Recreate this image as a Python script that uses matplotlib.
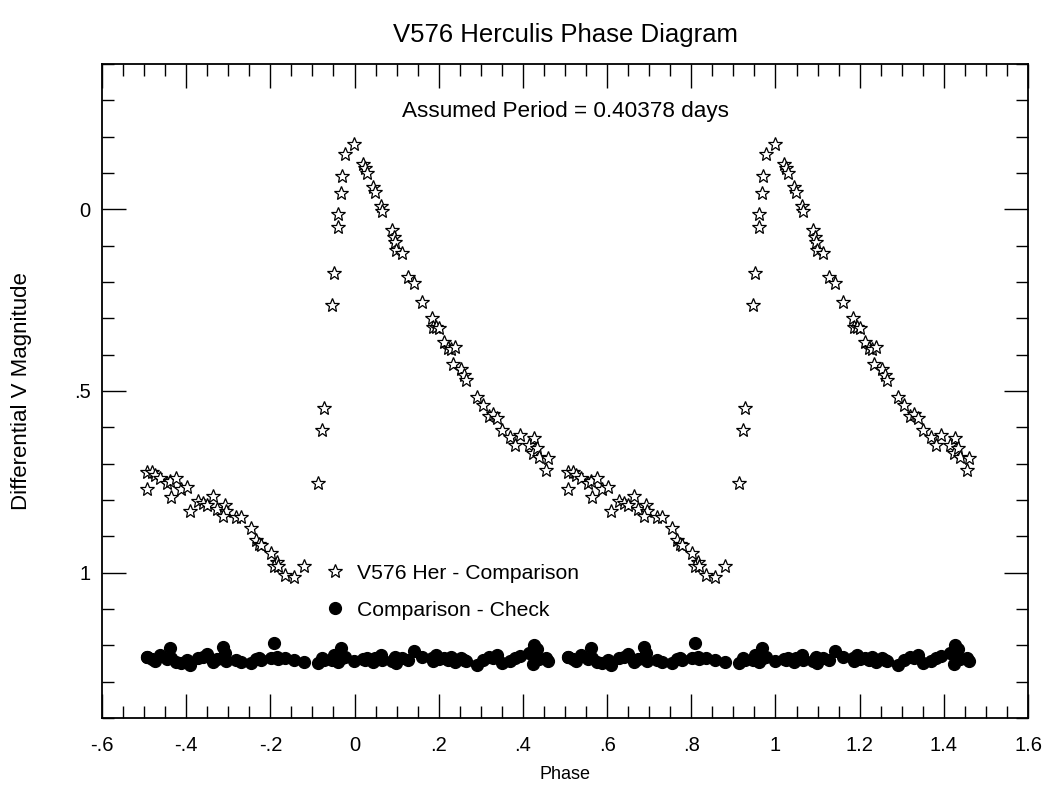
import numpy as np
import matplotlib
matplotlib.use('Agg')
import matplotlib.pyplot as plt
from matplotlib.ticker import MultipleLocator, FuncFormatter

plt.rcParams['font.family'] = ['Liberation Sans', 'DejaVu Sans']

# one cycle of V576 Her - Comparison (phase, differential V mag)
star_phase = [-0.494, -0.482, -0.492, -0.474, -0.462, -0.446, -0.439, -0.424, -0.437, -0.412,
              -0.397, -0.391, -0.371, -0.359, -0.351, -0.336, -0.326, -0.308, -0.305, -0.313,
              -0.282, -0.270, -0.246, -0.234, -0.226, -0.222, -0.199, -0.185, -0.191, -0.181,
              -0.165, -0.143, -0.120,
              -0.087, -0.077, -0.072, -0.054, -0.049, -0.039, -0.039, -0.032, -0.030, -0.023,
              -0.001, 0.020, 0.025, 0.030, 0.044, 0.049, 0.063, 0.065, 0.089, 0.094,
              0.096, 0.098, 0.113, 0.127, 0.141, 0.160, 0.184, 0.186, 0.193, 0.201,
              0.213, 0.222, 0.229, 0.239, 0.234, 0.253, 0.260, 0.265, 0.291, 0.305,
              0.319, 0.329, 0.338, 0.350, 0.369, 0.381, 0.393, 0.414, 0.426, 0.424,
              0.434, 0.438, 0.460, 0.455]
star_mag = [0.723, 0.723, 0.771, 0.732, 0.740, 0.753, 0.748, 0.740, 0.793, 0.771,
            0.764, 0.831, 0.803, 0.809, 0.815, 0.790, 0.824, 0.815, 0.831, 0.843,
            0.847, 0.847, 0.878, 0.909, 0.921, 0.925, 0.946, 0.971, 0.983, 0.981,
            1.006, 1.011, 0.983,
            0.754, 0.608, 0.547, 0.262, 0.175, 0.050, 0.014, -0.044, -0.091, -0.152,
            -0.180, -0.124, -0.113, -0.099, -0.061, -0.047, -0.008, 0.006, 0.058, 0.077,
            0.091, 0.113, 0.119, 0.185, 0.202, 0.254, 0.298, 0.323, 0.323, 0.326,
            0.365, 0.381, 0.384, 0.378, 0.425, 0.439, 0.456, 0.470, 0.517, 0.539,
            0.569, 0.564, 0.575, 0.608, 0.627, 0.649, 0.622, 0.649, 0.630, 0.671,
            0.657, 0.682, 0.685, 0.718]
# Comparison - Check at the same phases
check_mag = [1.233, 1.237, 1.232, 1.242, 1.228, 1.238, 1.207, 1.247, 1.236, 1.250,
             1.240, 1.253, 1.236, 1.232, 1.225, 1.247, 1.238, 1.222, 1.243, 1.204,
             1.240, 1.245, 1.250, 1.238, 1.236, 1.240, 1.235, 1.232, 1.193, 1.238,
             1.236, 1.240, 1.245,
             1.248, 1.236, 1.240, 1.240, 1.228, 1.232, 1.245, 1.207, 1.236, 1.232,
             1.244, 1.238, 1.240, 1.234, 1.246, 1.236, 1.228, 1.240, 1.244, 1.238,
             1.232, 1.248, 1.236, 1.240, 1.215, 1.232, 1.236, 1.244, 1.228, 1.238,
             1.236, 1.240, 1.232, 1.246, 1.238, 1.236, 1.240, 1.244, 1.254, 1.240,
             1.232, 1.236, 1.226, 1.248, 1.243, 1.236, 1.230, 1.222, 1.199, 1.252,
             1.210, 1.238, 1.244, 1.236]

period = 0.40378

ph = np.array(star_phase)
# phase diagram shows the cycle twice
ph2 = np.concatenate([ph, ph + 1])
vm = np.concatenate([star_mag, star_mag])
cm = np.concatenate([check_mag, check_mag])

fig = plt.figure(figsize=(10.47, 7.87), dpi=100)
ax = fig.add_axes([0.0974, 0.0877, 0.8845, 0.831])

ax.plot(ph2, vm, ls='none', marker='*', ms=10.5, mfc='white', mec='black', mew=0.9,
        label='V576 Her - Comparison')
ax.plot(ph2, cm, ls='none', marker='o', ms=8.5, mfc='black', mec='black',
        label='Comparison - Check')

ax.set_xlim(-0.6, 1.6)
ax.set_ylim(1.4, -0.4)

def fmt(v, pos):
    s = '%g' % round(v, 3)
    if s.startswith('0.'):
        s = s[1:]
    elif s.startswith('-0.'):
        s = '-' + s[2:]
    return s

ax.xaxis.set_major_locator(MultipleLocator(0.2))
ax.xaxis.set_minor_locator(MultipleLocator(0.05))
ax.yaxis.set_major_locator(MultipleLocator(0.5))
ax.yaxis.set_minor_locator(MultipleLocator(0.1))
ax.xaxis.set_major_formatter(FuncFormatter(fmt))
ax.yaxis.set_major_formatter(FuncFormatter(fmt))

ax.tick_params(which='both', direction='in', top=True, right=True, width=1, color='black')
ax.tick_params(which='major', length=17, labelsize=14.5)
ax.tick_params(axis='x', which='major', pad=13)
ax.tick_params(axis='y', which='major', pad=8)
ax.tick_params(which='minor', length=8.5)
for sp in ax.spines.values():
    sp.set_linewidth(1.3)

ax.set_xlabel('Phase', fontsize=13, labelpad=8)
ax.set_ylabel('Differential V Magnitude', fontsize=16, labelpad=30)
ax.set_title('V576 Herculis Phase Diagram', fontsize=18.5, pad=16)

ax.text(0.5, -0.27, 'Assumed Period = %.5f days' % period, fontsize=16.2,
        ha='center', va='center')

ax.legend(loc='upper left', bbox_to_anchor=(0.2397, 0.236), frameon=False,
          fontsize=15.2, handlelength=1.0, handletextpad=0.55, labelspacing=0.85,
          borderaxespad=0, borderpad=0)

fig.savefig('out.png', dpi=100)
